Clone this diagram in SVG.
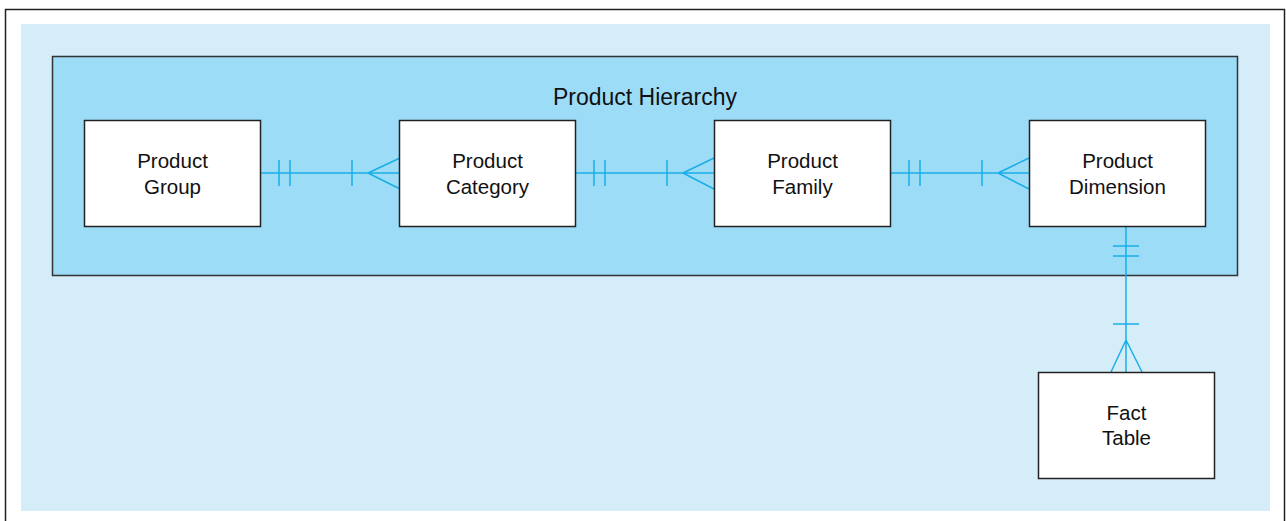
<svg xmlns="http://www.w3.org/2000/svg" width="1286" height="521" viewBox="0 0 1286 521">
<style>
.box{fill:#fff;stroke:#222;stroke-width:1.5}
.t{font-family:"Liberation Sans",Arial,sans-serif;font-size:20.5px;fill:#111;text-anchor:middle}
.c{stroke:#1aaee8;stroke-width:1.5;fill:none}
</style>
<rect x="5.5" y="9.5" width="1279" height="520" fill="#fff" stroke="#222" stroke-width="1.5"/>
<rect x="21" y="24" width="1249" height="487" fill="#d5edf9"/>
<g id="hierarchy">
<rect x="52.5" y="56.5" width="1185" height="219" fill="#9cdcf7" stroke="#333" stroke-width="1.5"/>
<text class="t" x="645" y="105" style="font-size:23px">Product Hierarchy</text>
</g>
<g id="connectors" class="c">
<path d="M261 173H400M279 160V186M290 160V186M352 160V186M368 173L400 158M368 173L400 189"/>
<path d="M575 173H714M594 160V186M605 160V186M667 160V186M683 173L714 158M683 173L714 189"/>
<path d="M890 173H1029M909 160V186M920 160V186M982 160V186M998 173L1029 158M998 173L1029 189"/>
<path d="M1126 227V372M1113 246H1139M1113 256H1139M1113 324H1139M1126 340L1111 372M1126 340L1142 372"/>
</g>
<g id="product-group"><rect class="box" x="84.5" y="120.5" width="176" height="106"/><text class="t" x="172.5" y="168">Product</text><text class="t" x="172.5" y="194">Group</text></g>
<g id="product-category"><rect class="box" x="399.5" y="120.5" width="176" height="106"/><text class="t" x="487.5" y="168">Product</text><text class="t" x="487.5" y="194">Category</text></g>
<g id="product-family"><rect class="box" x="714.5" y="120.5" width="176" height="106"/><text class="t" x="802.5" y="168">Product</text><text class="t" x="802.5" y="194">Family</text></g>
<g id="product-dimension"><rect class="box" x="1029.5" y="120.5" width="176" height="106"/><text class="t" x="1117.5" y="168">Product</text><text class="t" x="1117.5" y="194">Dimension</text></g>
<g id="fact-table"><rect class="box" x="1038.5" y="372.5" width="176" height="106"/><text class="t" x="1126.5" y="420">Fact</text><text class="t" x="1126.5" y="445">Table</text></g>
</svg>
